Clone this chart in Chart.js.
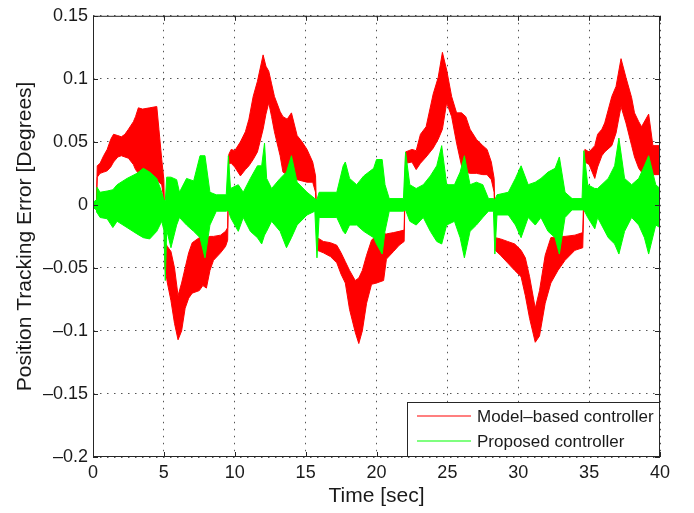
<!DOCTYPE html>
<html>
<head>
<meta charset="utf-8">
<script src="https://cdn.jsdelivr.net/npm/chart.js@4.4.1/dist/chart.umd.min.js"></script>
<style>
  html, body { margin: 0; padding: 0; background: #fff; }
  #wrap { width: 694px; height: 513px; }
</style>
</head>
<body>
<div id="wrap"><canvas id="chart" width="694" height="513"></canvas></div>
<script>
// tick positions
const xTicks = [0, 5, 10, 15, 20, 25, 30, 35, 40];
const yTicks = [-0.2, -0.15, -0.1, -0.05, 0, 0.05, 0.1, 0.15];

// model-based controller: time [sec], upper and lower envelope of the error band
const redTime = [0, 0.24, 0.3, 0.5, 0.75, 1, 1.25, 1.45, 1.75, 2, 2.25, 2.5, 2.85, 3, 3.2, 3.5, 4, 4.5, 4.65, 4.85, 5,
  5.08, 5.25, 5.5, 5.75, 6, 6.25, 6.5, 6.75, 7, 7.5, 7.75, 8, 8.25, 8.5, 9, 9.35, 9.5,
  9.58, 9.75, 10, 10.4, 10.75, 11, 11.3, 11.6, 12, 12.2, 12.4, 12.6, 12.8, 13.2, 13.4, 13.7, 14, 14.4, 14.75, 15.1, 15.5, 15.7,
  15.82, 16.25, 16.75, 17.2, 17.5, 17.8, 18.1, 18.5, 18.75, 19, 19.3, 19.65, 20, 20.5, 20.7, 21.2, 21.6, 21.95,
  22.05, 22.5, 22.8, 23.1, 23.5, 24, 24.35, 24.65, 24.95, 25.3, 25.65, 26, 26.3, 26.6, 27.05, 27.5, 27.8, 28.1, 28.3,
  28.38, 28.75, 29.25, 29.75, 30.2, 30.5, 30.8, 31.2, 31.5, 31.9, 32.3, 32.8, 33.3, 34, 34.55,
  34.7, 35, 35.4, 35.6, 35.9, 36.1, 36.6, 36.9, 37.25, 37.6, 38, 38.2, 38.5, 38.7, 39.2, 39.5, 40];
const redHigh = [0, 0.002, 0.031, 0.033, 0.039, 0.044, 0.052, 0.056, 0.055, 0.054, 0.056, 0.06, 0.066, 0.07, 0.077, 0.076, 0.077, 0.078, 0.06, 0.036, 0.02,
  -0.03, -0.033, -0.037, -0.05, -0.072, -0.062, -0.05, -0.038, -0.03, -0.026, -0.026, -0.026, -0.025, -0.025, -0.024, -0.021, -0.018,
  0.04, 0.044, 0.043, 0.05, 0.058, 0.068, 0.086, 0.098, 0.119, 0.11, 0.106, 0.096, 0.086, 0.074, 0.07, 0.068, 0.073, 0.055, 0.05, 0.044, 0.034, 0.023,
  -0.026, -0.029, -0.03, -0.032, -0.038, -0.045, -0.052, -0.06, -0.058, -0.052, -0.04, -0.028, -0.024, -0.023, -0.023, -0.022, -0.021, -0.02,
  0.042, 0.044, 0.043, 0.056, 0.062, 0.088, 0.101, 0.121, 0.107, 0.086, 0.073, 0.073, 0.07, 0.06, 0.052, 0.047, 0.044, 0.034, 0.021,
  -0.026, -0.027, -0.029, -0.031, -0.036, -0.042, -0.057, -0.082, -0.068, -0.04, -0.026, -0.025, -0.025, -0.024, -0.022,
  0.044, 0.042, 0.047, 0.056, 0.06, 0.065, 0.086, 0.094, 0.116, 0.101, 0.085, 0.073, 0.066, 0.062, 0.072, 0.047, 0.047];
const redLow = [0, -0.001, 0.022, 0.025, 0.026, 0.027, 0.03, 0.034, 0.038, 0.039, 0.038, 0.037, 0.032, 0.028, 0.025, 0.022, 0.02, 0.02, 0.018, 0.016, 0.004,
  -0.05, -0.062, -0.076, -0.094, -0.107, -0.1, -0.082, -0.074, -0.07, -0.068, -0.064, -0.066, -0.052, -0.044, -0.038, -0.033, -0.028,
  0.033, 0.033, 0.03, 0.023, 0.028, 0.031, 0.036, 0.042, 0.06, 0.072, 0.081, 0.07, 0.058, 0.039, 0.026, 0.024, 0.022, 0.02, 0.019, 0.018, 0.018, 0.01,
  -0.036, -0.038, -0.041, -0.046, -0.055, -0.062, -0.083, -0.101, -0.11, -0.1, -0.078, -0.063, -0.062, -0.06, -0.043, -0.037, -0.032, -0.029,
  0.033, 0.034, 0.028, 0.033, 0.038, 0.045, 0.052, 0.06, 0.081, 0.07, 0.049, 0.031, 0.026, 0.025, 0.025, 0.024, 0.024, 0.02, 0.01,
  -0.036, -0.04, -0.046, -0.052, -0.057, -0.072, -0.09, -0.109, -0.104, -0.078, -0.062, -0.052, -0.044, -0.036, -0.034,
  0.034, 0.032, 0.021, 0.03, 0.039, 0.042, 0.047, 0.057, 0.078, 0.065, 0.047, 0.038, 0.029, 0.026, 0.025, 0.024, 0.024];

// proposed controller: time [sec], upper and lower envelope
const greenTime = [0, 0.24, 0.28, 0.5, 1, 1.4, 1.7, 2.4, 3.1, 3.55, 4, 4.5, 4.85, 5, 5.1, 5.2, 5.5, 5.9, 6.1, 6.6, 7.1, 7.55, 7.9, 8.25, 8.7, 9.4, 9.55,
  9.7, 10.25, 10.6, 11.1, 11.6, 11.9, 12.1, 12.25, 12.6, 13.2, 13.65, 14, 14.4, 15.1, 15.65, 15.8, 15.95, 17.2, 17.65, 17.8, 18.1, 18.6, 19.1, 19.8,
  20, 20.4, 20.6, 20.9, 21.9, 22.05, 22.35, 22.8, 23.3, 23.8, 24.25, 24.6, 24.95, 25.5, 25.9, 26.2, 26.6, 27.05, 27.5, 27.9, 28.25, 28.35, 28.5,
  29.3, 29.8, 30.2, 30.7, 31.2, 31.6, 32.1, 32.6, 32.9, 33.3, 33.8, 34.5, 34.63, 34.9, 35.4, 35.6, 36.35, 36.8, 37.1, 37.5, 38, 38.5, 38.9, 39.2, 39.7, 40];
const greenHigh = [0.002, 0.004, 0.014, 0.01, 0.011, 0.012, 0.016, 0.021, 0.025, 0.029, 0.026, 0.021, 0.01, 0.004, 0.003, 0.022, 0.022, 0.02, 0.01, 0.021, 0.019, 0.039, 0.039, 0.01, 0.008, 0.008, 0.039,
  0.013, 0.016, 0.01, 0.021, 0.031, 0.031, 0.049, 0.021, 0.013, 0.021, 0.026, 0.039, 0.018, 0.01, 0.005, 0.004, 0.01, 0.01, 0.031, 0.034, 0.021, 0.016, 0.023, 0.029,
  0.036, 0.036, 0.016, 0.005, 0.005, 0.042, 0.016, 0.013, 0.016, 0.023, 0.031, 0.047, 0.016, 0.016, 0.026, 0.039, 0.016, 0.018, 0.016, 0.005, 0.005, 0.004, 0.008,
  0.01, 0.021, 0.031, 0.016, 0.018, 0.021, 0.026, 0.029, 0.038, 0.01, 0.005, 0.005, 0.043, 0.016, 0.013, 0.013, 0.021, 0.031, 0.053, 0.021, 0.016, 0.021, 0.031, 0.039, 0.016, 0.013];
const greenLow = [-0.002, -0.004, -0.006, -0.01, -0.011, -0.018, -0.013, -0.018, -0.023, -0.026, -0.027, -0.021, -0.013, -0.02, -0.06, -0.02, -0.034, -0.016, -0.01, -0.016, -0.021, -0.026, -0.042, -0.016, -0.005, -0.005, -0.004,
  -0.01, -0.021, -0.01, -0.021, -0.026, -0.031, -0.024, -0.021, -0.013, -0.021, -0.034, -0.026, -0.016, -0.008, -0.005, -0.042, -0.01, -0.01, -0.021, -0.023, -0.016, -0.016, -0.021, -0.026,
  -0.031, -0.039, -0.021, -0.005, -0.005, -0.004, -0.013, -0.016, -0.01, -0.021, -0.029, -0.031, -0.016, -0.013, -0.026, -0.042, -0.021, -0.016, -0.01, -0.005, -0.005, -0.039, -0.008,
  -0.008, -0.016, -0.026, -0.01, -0.016, -0.01, -0.021, -0.026, -0.039, -0.01, -0.004, -0.004, -0.004, -0.01, -0.019, -0.01, -0.026, -0.031, -0.039, -0.021, -0.01, -0.016, -0.026, -0.039, -0.016, -0.018];

const FONT = "'Liberation Sans', Arial, sans-serif";
const INK = "#1a1a1a";
const RED = "#ff0000";
const GREEN = "#00ff00";

const pts = (t, v) => t.map((x, i) => ({ x, y: v[i] }));
const yLabel = v => (v < 0 ? "\u2013" : "") + Math.abs(v);

function band(label, t, hi, lo, color, order) {
  const common = { borderColor: color, backgroundColor: color, borderWidth: 1, pointRadius: 0, tension: 0, order };
  return [
    { ...common, label, data: pts(t, hi), fill: false },
    { ...common, label: label + " (low)", data: pts(t, lo), fill: "-1" }
  ];
}

// axes box with inward tick marks, like the original plot style
const frame = {
  id: "frame",
  afterDatasetsDraw(chart) {
    const { ctx, chartArea: a, scales: { x, y } } = chart;
    ctx.save();
    ctx.strokeStyle = "#262626";
    ctx.lineWidth = 1;
    ctx.beginPath();
    ctx.rect(a.left + 0.5, a.top + 0.5, a.right - a.left - 1, a.bottom - a.top - 1);
    for (const v of xTicks) {
      const px = Math.round(x.getPixelForValue(v)) + 0.5;
      ctx.moveTo(px, a.bottom); ctx.lineTo(px, a.bottom - 5);
      ctx.moveTo(px, a.top); ctx.lineTo(px, a.top + 5);
    }
    for (const v of yTicks) {
      const py = Math.round(y.getPixelForValue(v)) + 0.5;
      ctx.moveTo(a.left, py); ctx.lineTo(a.left + 5, py);
      ctx.moveTo(a.right, py); ctx.lineTo(a.right - 5, py);
    }
    ctx.stroke();
    ctx.restore();
  }
};

// legend box in the lower right corner of the axes
const legendBox = {
  id: "legendBox",
  afterDraw(chart) {
    const { ctx, chartArea: a } = chart;
    const items = chart.data.datasets.filter(d => !d.label.endsWith("(low)"));
    const w = 253, h = 55;
    const bx = a.right - w, by = a.bottom - h;
    ctx.save();
    ctx.fillStyle = "#fff";
    ctx.fillRect(bx, by, w, h);
    ctx.strokeStyle = "#262626";
    ctx.lineWidth = 1;
    ctx.strokeRect(bx + 0.5, by + 0.5, w - 1, h - 1);
    ctx.font = "17px " + FONT;
    ctx.textBaseline = "middle";
    items.forEach((d, i) => {
      const ly = by + 14 + i * 25;
      ctx.strokeStyle = d.borderColor;
      ctx.lineWidth = 1.2;
      ctx.beginPath();
      ctx.moveTo(bx + 10, ly); ctx.lineTo(bx + 64, ly);
      ctx.stroke();
      ctx.fillStyle = INK;
      ctx.fillText(d.label, bx + 70, ly + 1);
    });
    ctx.restore();
  }
};

new Chart(document.getElementById("chart"), {
  type: "line",
  data: {
    datasets: [
      ...band("Model\u2013based controller", redTime, redHigh, redLow, RED, 2),
      ...band("Proposed controller", greenTime, greenHigh, greenLow, GREEN, 1)
    ]
  },
  options: {
    responsive: false,
    animation: false,
    layout: { padding: { left: 0, top: 8, right: 34, bottom: 0 } },
    plugins: { legend: { display: false }, tooltip: { enabled: false } },
    scales: {
      x: {
        type: "linear",
        min: 0, max: 40,
        afterBuildTicks: s => { s.ticks = xTicks.map(value => ({ value })); },
        afterFit: s => { s.height = 56; },
        grid: { color: "#555", lineWidth: 1, drawTicks: false },
        border: { display: false, dash: [1.5, 5.5] },
        ticks: { color: INK, padding: 5, font: { family: FONT, size: 18 }, maxRotation: 0 },
        title: { display: true, text: "Time [sec]", color: INK, font: { family: FONT, size: 21 }, padding: { top: 0, bottom: 4 } }
      },
      y: {
        min: -0.2, max: 0.15,
        afterBuildTicks: s => { s.ticks = yTicks.map(value => ({ value })); },
        afterFit: s => { s.width = 93; },
        grid: { color: "#555", lineWidth: 1, drawTicks: false },
        border: { display: false, dash: [1.5, 5.5] },
        ticks: { color: INK, padding: 5, font: { family: FONT, size: 18 }, callback: yLabel },
        title: { display: true, text: "Position Tracking Error [Degrees]", color: INK, font: { family: FONT, size: 21 }, padding: { top: 13, bottom: 0 } }
      }
    }
  },
  plugins: [frame, legendBox]
});
</script>
</body>
</html>
